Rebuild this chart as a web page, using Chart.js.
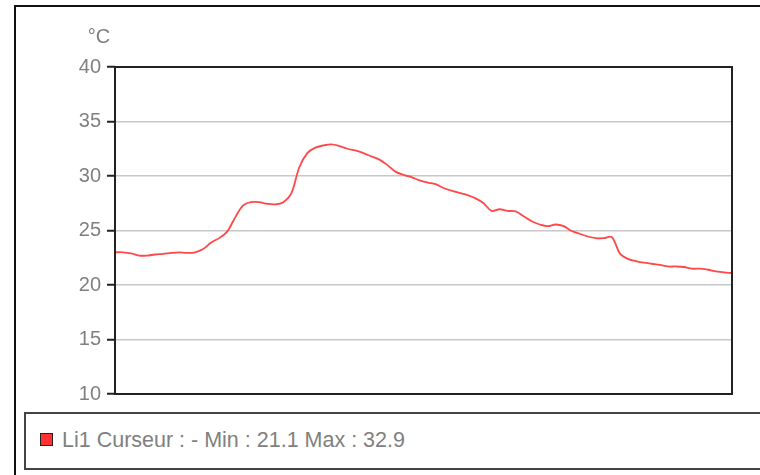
<!DOCTYPE html>
<html>
<head>
<meta charset="utf-8">
<script src="https://cdn.jsdelivr.net/npm/chart.js@4"></script>
<style>
  body { margin: 0; background: #fff; width: 760px; height: 475px; overflow: hidden; position: relative; font-family: "Liberation Sans", Arial, sans-serif; }
  #frame { position: absolute; left: 14px; top: 5px; width: 800px; height: 520px; border-left: 2px solid #111; border-top: 2px solid #111; box-sizing: border-box; }
  #wrap { position: absolute; left: 0; top: 0; width: 760px; height: 412px; }
  #legend { position: absolute; left: 24px; top: 412px; width: 800px; height: 58px; border: 2px solid #444; box-sizing: border-box; color: #808080; font-size: 21.5px; }
  #legend .sw { position: absolute; left: 14px; top: 19px; width: 11px; height: 11px; background: #ff3333; border: 1px solid #222; }
  #legend .txt { position: absolute; left: 36px; top: 14px; white-space: nowrap; }
</style>
</head>
<body>
<div id="frame"></div>
<div id="wrap"><canvas id="tempChart" width="760" height="412"></canvas></div>
<div id="legend"><span class="sw"></span><span class="txt" id="legendText"></span></div>
<script>
const seriesName = 'Li1';
const unitLabel = '°C';
const yTicks = [10, 15, 20, 25, 30, 35, 40];
const temps = [
  23.0, 23.0, 22.9, 22.7, 22.7, 22.8, 22.85, 22.95, 23.0, 22.95,
  23.0, 23.3, 23.9, 24.3, 24.9, 26.2, 27.3, 27.6, 27.6, 27.45,
  27.4, 27.6, 28.4, 30.8, 32.1, 32.6, 32.8, 32.9, 32.75, 32.5,
  32.35, 32.1, 31.8, 31.5, 31.0, 30.4, 30.1, 29.9, 29.6, 29.4,
  29.25, 28.9, 28.65, 28.45, 28.25, 27.95, 27.5, 26.8, 26.95, 26.8,
  26.75, 26.3, 25.85, 25.55, 25.4, 25.55, 25.4, 24.95, 24.7, 24.45,
  24.3, 24.3, 24.4, 22.9, 22.4, 22.2, 22.05, 21.95, 21.85, 21.7,
  21.7, 21.65, 21.5, 21.5, 21.4, 21.25, 21.15, 21.1
];
const labels = temps.map(() => '');

document.getElementById('legendText').textContent =
  seriesName + ' Curseur : - Min : ' + Math.min(...temps).toFixed(1) + ' Max : ' + Math.max(...temps).toFixed(1);

// box around the plot + unit label
const framePlugin = {
  id: 'framePlugin',
  afterDraw(chart) {
    const { ctx, chartArea: a } = chart;
    ctx.save();
    ctx.strokeStyle = '#222';
    ctx.lineWidth = 2;
    ctx.strokeRect(a.left, a.top, a.right - a.left, a.bottom - a.top);
    ctx.fillStyle = '#808080';
    ctx.font = '20px "Liberation Sans", Arial, sans-serif';
    ctx.textAlign = 'center';
    ctx.textBaseline = 'middle';
    ctx.fillText(unitLabel, 99, 37);
    ctx.restore();
  }
};

new Chart(document.getElementById('tempChart'), {
  type: 'line',
  data: {
    labels: labels,
    datasets: [{
      label: seriesName,
      data: temps,
      borderColor: '#ff4848',
      borderWidth: 1.8,
      pointRadius: 0,
      tension: 0.35,
      fill: false
    }]
  },
  options: {
    responsive: false,
    animation: false,
    layout: { padding: { left: 0, top: 67, right: 28, bottom: 0 } },
    plugins: { legend: { display: false }, tooltip: { enabled: false } },
    scales: {
      x: {
        offset: false,
        grid: { display: false },
        border: { display: false },
        ticks: { display: false },
        afterFit: s => { s.height = 0; }
      },
      y: {
        min: 10,
        max: 40,
        afterFit: s => { s.width = 115; },
        afterBuildTicks: s => { s.ticks = yTicks.map(v => ({ value: v })); },
        grid: { color: '#c8c8c8', lineWidth: 1.5, tickLength: 8, tickColor: '#222', tickWidth: 2 },
        border: { display: false },
        ticks: {
          color: '#808080',
          padding: 6,
          font: { family: '"Liberation Sans", Arial, sans-serif', size: 20 }
        }
      }
    }
  },
  plugins: [framePlugin]
});
</script>
</body>
</html>
